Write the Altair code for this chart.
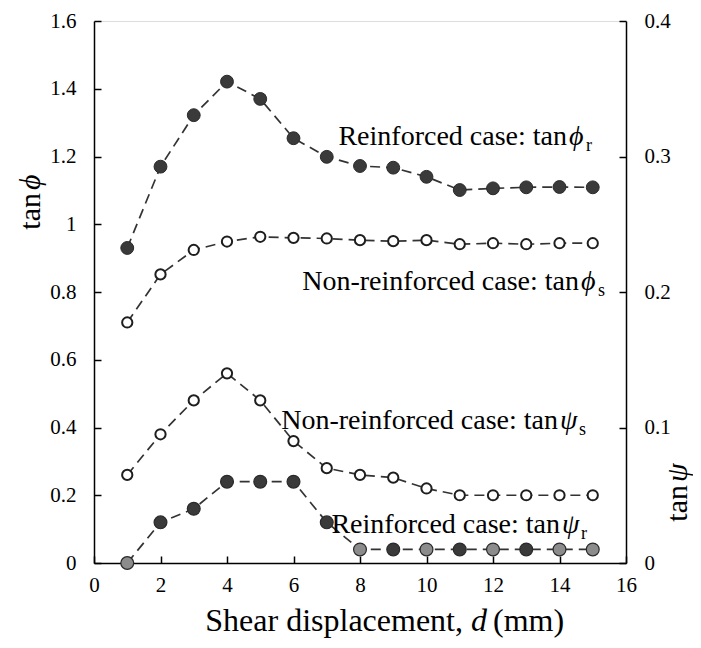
import altair as alt
import pandas as pd

# ---------------- data ----------------
d_mm = list(range(1, 16))
tan_phi_r = [0.93, 1.17, 1.322, 1.421, 1.370, 1.254, 1.199, 1.172, 1.167, 1.140,
             1.101, 1.106, 1.109, 1.110, 1.109]
tan_phi_s = [0.71, 0.852, 0.924, 0.949, 0.963, 0.960, 0.958, 0.953, 0.950, 0.953,
             0.941, 0.944, 0.941, 0.944, 0.944]
tan_psi_s = [0.065, 0.095, 0.120, 0.140, 0.120, 0.090, 0.070, 0.065, 0.063, 0.055,
             0.050, 0.050, 0.050, 0.050, 0.050]
tan_psi_r = [0.0, 0.030, 0.040, 0.060, 0.060, 0.060, 0.030, 0.010, 0.010, 0.010,
             0.010, 0.010, 0.010, 0.010, 0.010]
grey_psi_r = [1, 8, 10, 12, 14, 15]   # points drawn with a grey fill

x_ticks = [0, 2, 4, 6, 8, 10, 12, 14, 16]
phi_ticks = [0, 0.2, 0.4, 0.6, 0.8, 1.0, 1.2, 1.4, 1.6]
psi_ticks = [0, 0.1, 0.2, 0.3, 0.4]

FONT = "Liberation Serif"
W, H = 532, 542
LINE = "#333333"
DARK = "#3a3a3a"
GREY = "#8c8c8c"
TICK_FS = 21

phi_r_df = pd.DataFrame({"d": d_mm, "v": tan_phi_r})
phi_s_df = pd.DataFrame({"d": d_mm, "v": tan_phi_s})
psi_s_df = pd.DataFrame({"d": d_mm, "v": tan_psi_s})
psi_r_df = pd.DataFrame({"d": d_mm, "v": tan_psi_r,
                         "tone": ["grey" if x in grey_psi_r else "dark" for x in d_mm]})

tick_in = {"expr": "-7"}
axis_style = dict(grid=False, tickSize=tick_in, labelFontSize=TICK_FS, labelFont=FONT,
                  labelColor="black", domainColor="black", tickColor="black",
                  domainWidth=1.5, tickWidth=1.5, labelFlush=False, title=None)

x_enc = alt.X("d:Q", scale=alt.Scale(domain=[0, 16], nice=False, zero=False),
              axis=alt.Axis(values=x_ticks, labelPadding=18, **axis_style))
y_phi = alt.Y("v:Q", scale=alt.Scale(domain=[0, 1.6], nice=False),
              axis=alt.Axis(values=phi_ticks, format="~g", orient="left",
                            labelPadding=25, **axis_style))
y_psi = alt.Y("v:Q", scale=alt.Scale(domain=[0, 0.4], nice=False),
              axis=alt.Axis(values=psi_ticks, format="~g", orient="right",
                            labelPadding=25, **axis_style))


def dashed(df, y):
    return alt.Chart(df).mark_line(strokeDash=[10, 6], strokeWidth=1.7, color=LINE).encode(x=x_enc, y=y)


def filled_pts(df, y):
    return alt.Chart(df).mark_point(shape="circle", filled=True, fill=DARK, stroke="#2a2a2a",
                                    strokeWidth=1, size=165, opacity=1).encode(x=x_enc, y=y)


def open_pts(df, y):
    return alt.Chart(df).mark_point(shape="circle", filled=True, fill="white", stroke="#1e1e1e",
                                    strokeWidth=2, size=105, opacity=1).encode(x=x_enc, y=y)


psi_r_pts = alt.Chart(psi_r_df).mark_point(shape="circle", filled=True, stroke="#2a2a2a",
                                           strokeWidth=1.2, size=165, opacity=1).encode(
    x=x_enc, y=y_psi,
    fill=alt.Fill("tone:N", scale=alt.Scale(domain=["dark", "grey"], range=[DARK, GREY]), legend=None))

left_group = alt.layer(dashed(phi_r_df, y_phi), dashed(phi_s_df, y_phi),
                       filled_pts(phi_r_df, y_phi), open_pts(phi_s_df, y_phi))
right_group = alt.layer(dashed(psi_s_df, y_psi), dashed(psi_r_df, y_psi),
                        open_pts(psi_s_df, y_psi), psi_r_pts)


def txt(s, x, y, size=28, align="left", style="normal", angle=0):
    return alt.Chart(alt.Data(values=[{}])).mark_text(
        text=s, font=FONT, fontSize=size, fontStyle=style, align=align,
        baseline="alphabetic", angle=angle, color="black").encode(
        x=alt.value(x), y=alt.value(y))


texts = [
    # Reinforced case: tan phi_r
    txt("Reinforced case: tan", 473, 124, align="right"),
    txt("\u03d5", 475, 124, style="italic"),
    txt("r", 492, 130, size=18),
    # Non-reinforced case: tan phi_s
    txt("Non-reinforced case: tan", 485, 269, align="right"),
    txt("\u03d5", 487, 269, style="italic"),
    txt("s", 504, 275, size=18),
    # Non-reinforced case: tan psi_s
    txt("Non-reinforced case: tan", 464, 408, align="right"),
    txt("\u03c8", 466, 408, style="italic"),
    txt("s", 485, 414, size=18),
    # Reinforced case: tan psi_r
    txt("Reinforced case: tan", 466, 512, align="right"),
    txt("\u03c8", 468, 512, style="italic"),
    txt("r", 487, 518, size=18),
    # x-axis title
    txt("Shear displacement,", 369, 610, size=32, align="right"),
    txt("d", 377, 610, size=32, style="italic"),
    txt("(mm)", 399, 610, size=32),
    # left axis title
    txt("tan", -54, 172, size=30, align="right", angle=270),
    txt("\u03d5", -54, 169, size=30, align="left", style="italic", angle=270),
    # right axis title
    txt("tan", 593, 464, size=30, align="right", angle=270),
    txt("\u03c8", 593, 461, size=30, align="left", style="italic", angle=270),
]

chart = alt.layer(left_group, right_group, *texts).resolve_scale(y="independent").properties(
    width=W, height=H,
    autosize=alt.AutoSizeParams(type="none"),
    padding={"left": 86, "top": 13, "right": 67, "bottom": 77},
).configure_view(stroke="black", strokeWidth=1.5).configure(background="white")

chart.save("out.html", embed_options={"renderer": "svg", "actions": False})
